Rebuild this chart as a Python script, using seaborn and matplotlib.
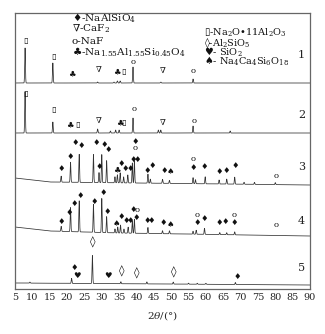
import numpy as np
import pandas as pd
import matplotlib
matplotlib.use("Agg")
import matplotlib.pyplot as plt
import seaborn as sns

# ---------------- data ----------------
xticks = list(range(5, 95, 5))
trace_labels = ["1", "2", "3", "4", "5"]
trace_label_y = [234, 174, 122, 68, 21]

# baselines (2theta, vertical offset)
base1_x = [5, 90];            base1_y = [206, 206]
base2_x = [5, 90];            base2_y = [156, 156]
base3_x = [5, 15, 40, 90];    base3_y = [111, 107, 106, 104]
base4_x = [5, 15, 35, 90];    base4_y = [62, 58, 56, 53]
base5_x = [5, 90];            base5_y = [6, 4]

# peaks (position 2theta, height)
pk1_x = [7.9, 15.9, 28.8, 33.5, 34.5, 35.3, 39.0, 47.0, 56.3]
pk1_h = [35, 20, 1, 1, 2, 2, 16, 1, 4]
pk2_x = [7.9, 15.9, 28.8, 32.5, 34.0, 35.0, 39.0, 46.3, 47.0, 56.3, 67.0]
pk2_h = [41, 11, 4, 2, 3, 3, 15, 3, 3, 7, 2]
pk3_x = [18.3, 21.0, 23.5, 27.6, 29.2, 30.0, 31.4, 33.8, 34.5, 35.3, 36.3, 37.5,
         38.8, 39.4, 43.3, 44.0, 47.5, 49.5, 56.3, 57.0, 59.8, 63.8, 66.0, 68.3,
         71.0, 74.0, 80.0]
pk3_h = [6, 20, 28, 28, 10, 28, 22, 6, 8, 10, 6, 8, 20, 22, 9, 4, 4, 3, 6, 4, 7,
         4, 5, 7, 2, 2, 2]
pk4_x = [18.3, 21.0, 23.5, 27.6, 30.0, 31.4, 33.8, 34.6, 35.4, 36.4, 37.6, 38.8,
         39.4, 43.3, 47.5, 49.5, 56.3, 57.2, 59.6, 64.0, 66.0, 68.3]
pk4_h = [5, 24, 31, 28, 34, 16, 4, 6, 8, 4, 6, 12, 14, 6, 3, 3, 3, 4, 6, 2, 2, 3]
pk5_x = [9.3, 21.3, 27.3, 35.5, 43.0, 50.6, 55.0, 57.5, 60.0, 68.5]
pk5_h = [1, 5, 28, 2, 2, 2, 1, 1, 1, 2]

# phase symbols
D, V, O, C, S, Z, H, T = "\u2666", "\u2207", "o", "\u2663", "\u25AF", "\u25CA", "\u2665", "\u2660"

m1_s = [S, S, C, V, C, S, O, V, O]
m1_x = [7.9, 16.0, 21.3, 29.0, 34.3, 36.2, 39.1, 47.7, 56.2]
m1_y = [248, 232, 215, 219, 217, 217, 227, 218, 218]

m2_s = [S, S, C, S, V, C, S, O, V, O]
m2_x = [7.9, 16.0, 20.8, 23.0, 29.0, 35.1, 36.2, 39.3, 47.7, 56.7]
m2_y = [195, 179, 164, 164, 168, 166, 166, 180, 166, 168]

m3_s = [D, D, D, D, D, D, D, D, C, D, D, D, D, D, D, O, D, D, D, T, D, O, D, D, D, D, O]
m3_x = [18.3, 21.0, 22.3, 24.2, 28.5, 30.6, 31.9, 29.3, 34.3, 35.7, 36.7, 38.1, 39.1,
        40.3, 39.6, 39.6, 43.0, 44.6, 47.9, 49.7, 56.4, 56.4, 59.7, 63.8, 66.0, 68.6, 80.2]
m3_y = [120, 132, 146, 143, 146, 144, 139, 122, 119, 125, 120, 120, 129,
        129, 147, 141, 118, 123, 118, 117, 121, 130, 122, 117, 118, 123, 113]

m4_s = [D, D, D, D, D, D, D, T, D, D, D, D, O, D, D, D, D, T, O, D, D, D, D, O, D, O]
m4_x = [18.3, 20.8, 22.1, 23.9, 28.0, 30.4, 31.7, 34.3, 35.5, 37.0, 38.1, 39.1, 40.2,
        40.1, 43.2, 44.4, 47.7, 49.7, 57.5, 57.5, 59.7, 63.8, 65.7, 68.2, 68.2, 80.2]
m4_y = [67, 76, 85, 93, 87, 96, 77, 65, 72, 68, 68, 79, 79,
        71, 68, 68, 66, 64, 74, 66, 70, 66, 67, 74, 66, 64]

m5_s = [Z, D, H, H, Z, Z, Z, D]
m5_x = [27.4, 22.0, 23.0, 31.9, 35.7, 40.2, 50.8, 69.0]
m5_y = [47, 21, 13, 13, 18, 16, 17, 12]

legend_left = [D + "-NaAlSiO$_4$", V + "-CaF$_2$", O + "-NaF",
               C + "-Na$_{1.55}$Al$_{1.55}$Si$_{0.45}$O$_4$"]
legend_left_y = [271, 260, 248, 237]
legend_right = [S + "-Na$_2$O\u202211Al$_2$O$_3$", Z + "-Al$_2$SiO$_5$",
                H + "- SiO$_2$", T + "- Na$_4$Ca$_4$Si$_6$O$_{18}$"]
legend_right_y = [256, 246, 237, 228]

# ---------------- build traces ----------------
grid = np.arange(5.0, 90.0001, 0.02)
WIDTH = 0.1


def build(bx, by, px, ph, name):
    y = np.interp(grid, bx, by)
    for p, h in zip(px, ph):
        y = y + h * np.exp(-0.5 * ((grid - p) / WIDTH) ** 2)
    return pd.DataFrame({"x": grid, "y": y, "trace": name})


df = pd.concat([
    build(base1_x, base1_y, pk1_x, pk1_h, "1"),
    build(base2_x, base2_y, pk2_x, pk2_h, "2"),
    build(base3_x, base3_y, pk3_x, pk3_h, "3"),
    build(base4_x, base4_y, pk4_x, pk4_h, "4"),
    build(base5_x, base5_y, pk5_x, pk5_h, "5"),
], ignore_index=True)

# ---------------- plot ----------------
sns.set_style("white")
plt.rcParams["font.family"] = ["DejaVu Serif", "DejaVu Sans"]
plt.rcParams["mathtext.fontset"] = "dejavuserif"

fig = plt.figure(figsize=(3.25, 3.34), dpi=100)
ax = fig.add_axes([15 / 325, 1 - 289 / 334, 295 / 325, 276 / 334])

sns.lineplot(data=df, x="x", y="y", hue="trace", palette=["#333333"] * 5,
             estimator=None, legend=False, linewidth=0.55, ax=ax)

ax.set_xlim(5, 90)
ax.set_ylim(0, 276)
ax.set_xticks(xticks)
ax.set_xticklabels([str(t) for t in xticks], fontsize=7)
ax.set_yticks([])
ax.tick_params(axis="x", direction="in", length=2, width=0.6, pad=3, color="#555555")
for sp in ax.spines.values():
    sp.set_color("#666666")
    sp.set_linewidth(0.9)
ax.set_xlabel(r"$2\theta$/(°)", fontsize=7.5, labelpad=5)
ax.set_ylabel("")

fam = ["DejaVu Serif", "DejaVu Sans"]
for ms, mx, my in [(m1_s, m1_x, m1_y), (m2_s, m2_x, m2_y), (m3_s, m3_x, m3_y),
                   (m4_s, m4_x, m4_y), (m5_s, m5_x, m5_y)]:
    for s, x, y in zip(ms, mx, my):
        fs = 8 if s == Z else 6
        ax.text(x, y, s, ha="center", va="center", fontsize=fs, family=fam, color="#111111")

for lab, ly in zip(trace_labels, trace_label_y):
    ax.text(87.6, ly, lab, ha="center", va="center", fontsize=8, family=fam, color="#222222")

for t, y in zip(legend_left, legend_left_y):
    ax.text(21.4, y, t, ha="left", va="center", fontsize=7.5, family=fam, color="#111111")
for t, y in zip(legend_right, legend_right_y):
    ax.text(59.6, y, t, ha="left", va="center", fontsize=7, family=fam, color="#111111")

fig.savefig("out.png", dpi=100)
